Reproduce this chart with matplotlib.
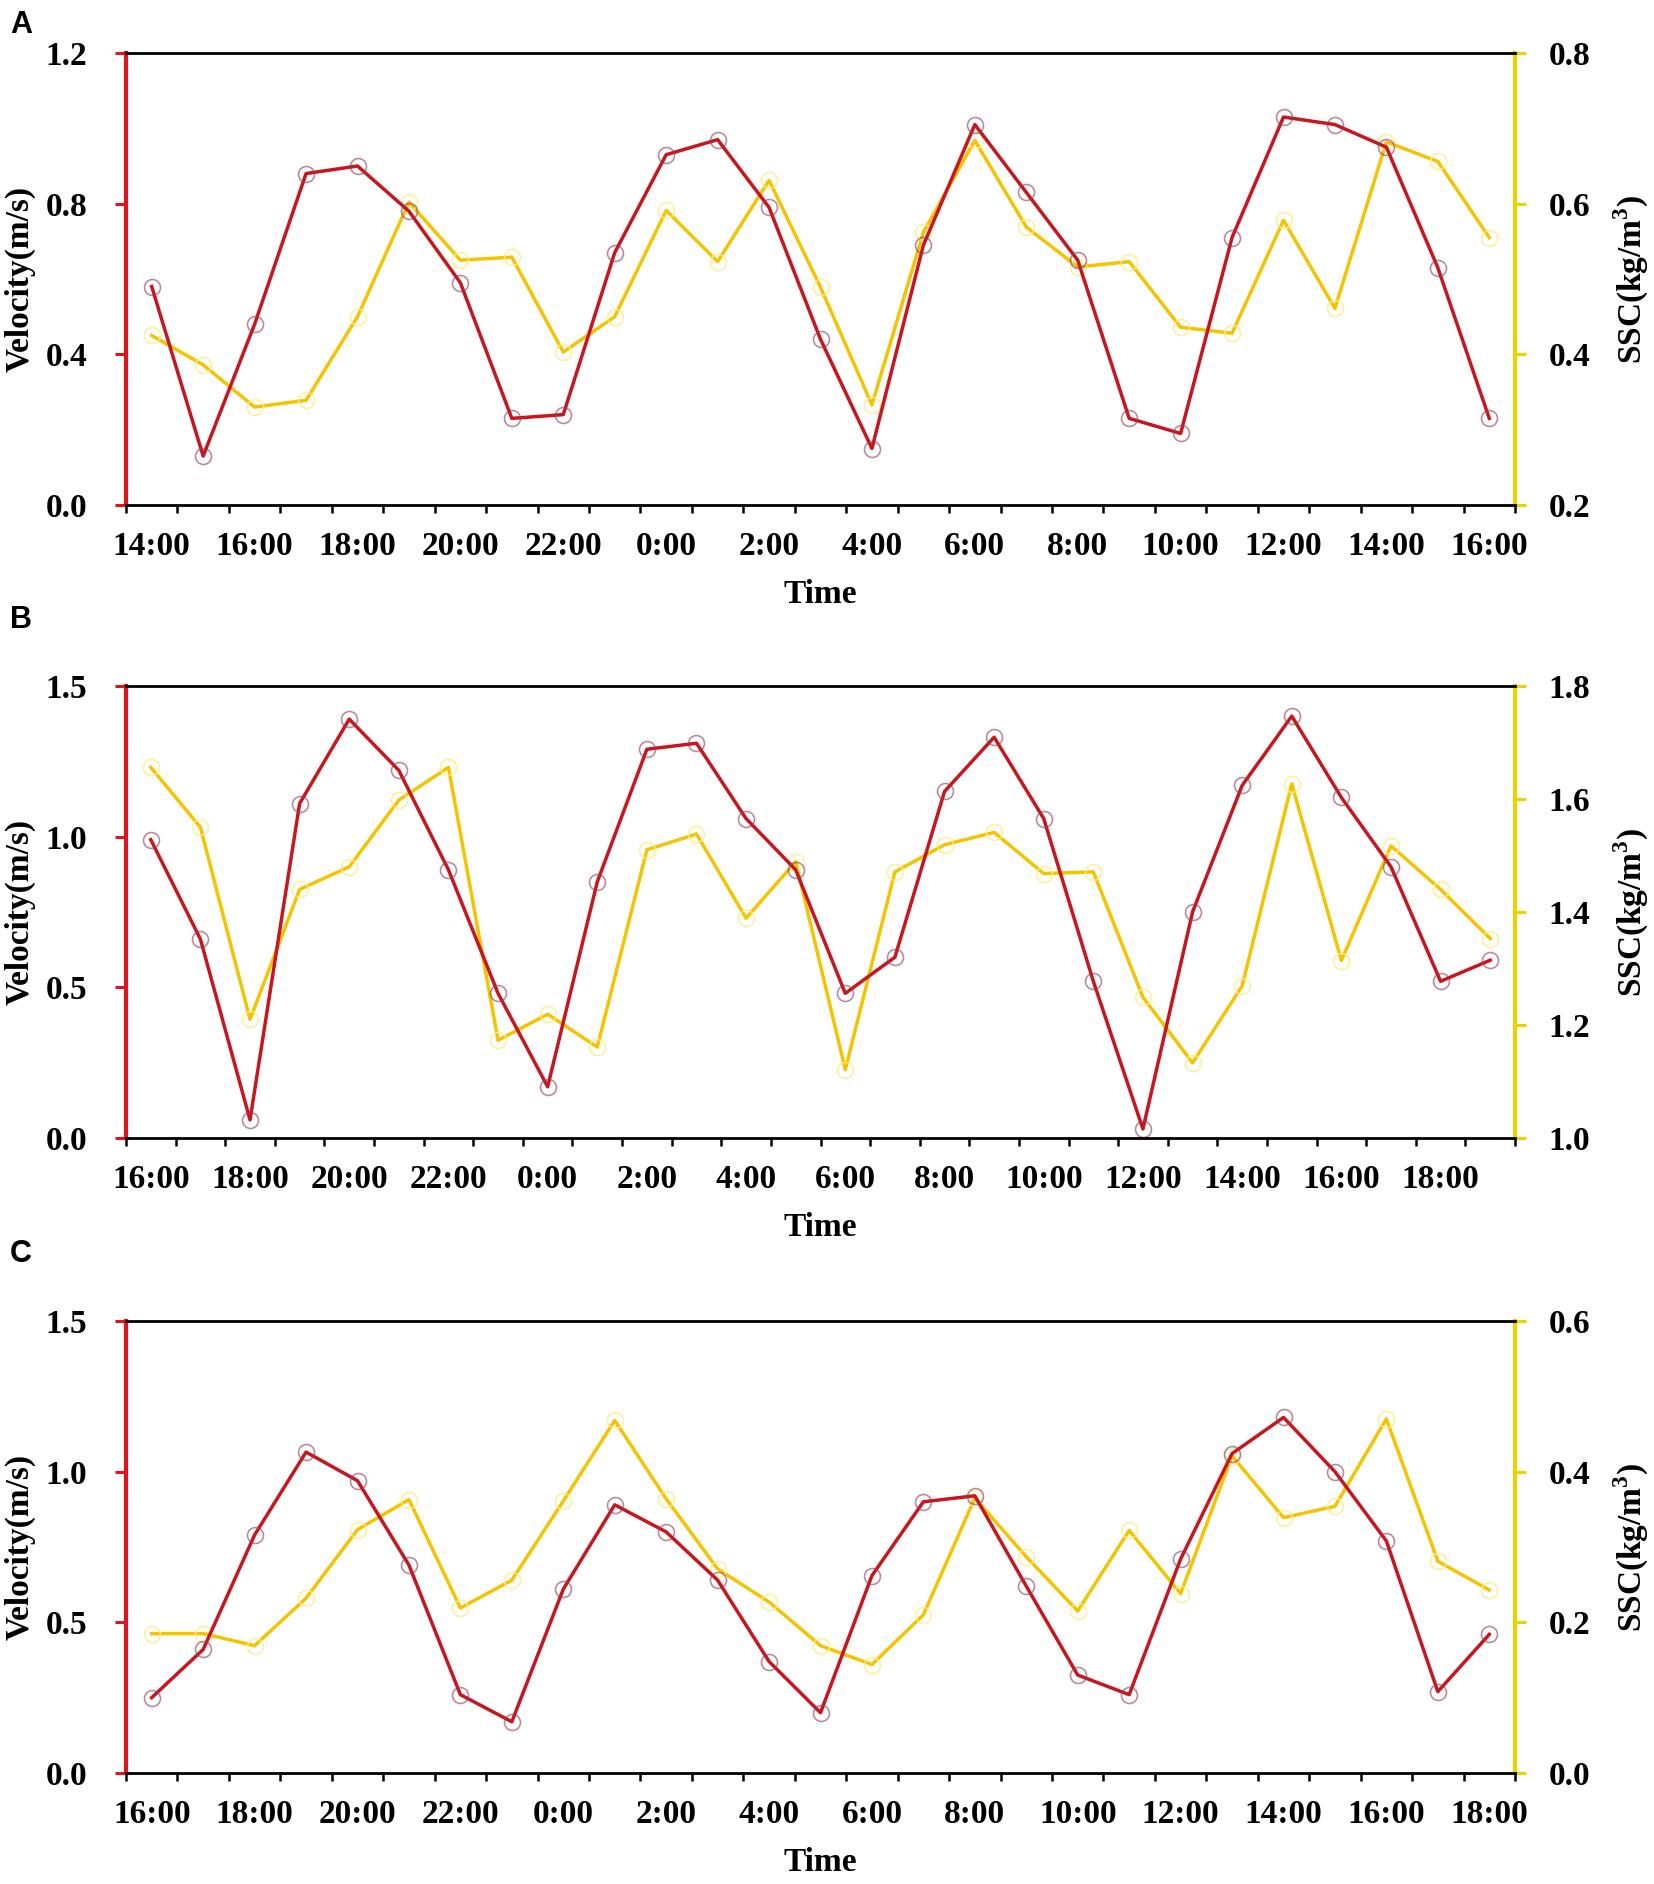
import numpy as np
import matplotlib.pyplot as plt

plt.rcParams['font.family'] = ['Liberation Serif', 'DejaVu Serif']
plt.rcParams['font.weight'] = 'bold'
plt.rcParams['mathtext.fontset'] = 'custom'
plt.rcParams['mathtext.rm'] = 'Liberation Serif:bold'

# panel A: 14:00 -> 16:00 next day, hourly
labels_a = ['14:00', '16:00', '18:00', '20:00', '22:00', '0:00', '2:00', '4:00',
            '6:00', '8:00', '10:00', '12:00', '14:00', '16:00']
vel_a = [0.58, 0.13, 0.48, 0.88, 0.90, 0.78, 0.59, 0.23, 0.24, 0.67, 0.93, 0.97, 0.79,
         0.44, 0.15, 0.69, 1.01, 0.83, 0.65, 0.23, 0.19, 0.71, 1.03, 1.01, 0.95, 0.63, 0.23]
ssc_a = [0.425, 0.386, 0.330, 0.339, 0.450, 0.602, 0.525, 0.529, 0.403, 0.450, 0.591,
         0.523, 0.631, 0.489, 0.333, 0.562, 0.684, 0.569, 0.516, 0.523, 0.436, 0.428,
         0.578, 0.461, 0.682, 0.656, 0.555]

# panel B: 16:00 -> 19:00 next day
labels_b = ['16:00', '18:00', '20:00', '22:00', '0:00', '2:00', '4:00', '6:00',
            '8:00', '10:00', '12:00', '14:00', '16:00', '18:00']
vel_b = [0.99, 0.66, 0.06, 1.11, 1.39, 1.22, 0.89, 0.48, 0.17, 0.85, 1.29, 1.31, 1.06,
         0.89, 0.48, 0.60, 1.15, 1.33, 1.06, 0.52, 0.03, 0.75, 1.17, 1.40, 1.13, 0.90,
         0.52, 0.59]
ssc_b = [1.656, 1.550, 1.210, 1.440, 1.480, 1.598, 1.656, 1.173, 1.219, 1.161, 1.510,
         1.538, 1.389, 1.489, 1.121, 1.471, 1.519, 1.541, 1.468, 1.471, 1.249, 1.133,
         1.269, 1.627, 1.314, 1.517, 1.440, 1.353]

# panel C: 16:00 -> 18:00 next day
labels_c = ['16:00', '18:00', '20:00', '22:00', '0:00', '2:00', '4:00', '6:00',
            '8:00', '10:00', '12:00', '14:00', '16:00', '18:00']
vel_c = [0.25, 0.41, 0.79, 1.065, 0.97, 0.69, 0.26, 0.17, 0.61, 0.89, 0.80, 0.64, 0.37,
         0.20, 0.655, 0.90, 0.92, 0.62, 0.325, 0.26, 0.71, 1.06, 1.18, 1.00, 0.77, 0.27,
         0.46]
ssc_c = [0.185, 0.185, 0.169, 0.232, 0.323, 0.363, 0.219, 0.256, 0.361, 0.468, 0.364,
         0.271, 0.227, 0.169, 0.144, 0.210, 0.365, 0.287, 0.215, 0.322, 0.238, 0.421,
         0.339, 0.354, 0.470, 0.281, 0.243]

RED = '#c9161e'
RED_AX = '#e0141c'
YEL = '#f5c400'
YEL_AX = '#ecd200'
FS = 24

W, H = 1654, 1884
fig = plt.figure(figsize=(W / 100, H / 100), dpi=100)


def panel(top_px, letter, letter_px, vel, ssc, labels, vlim, vticks, slim, sticks):
    n = len(vel)
    x = np.arange(n)
    rect = [126 / W, 1 - (top_px + 452) / H, 1389 / W, 452 / H]
    ax = fig.add_axes(rect)
    ax2 = ax.twinx()
    ax.set_zorder(ax2.get_zorder() + 1)
    ax.patch.set_visible(False)

    ax2.plot(x, ssc, color=YEL, lw=2.5, marker='o', ms=11.5, mfc='none',
             mec=(0.98, 0.93, 0.55, 0.8), mew=1.2)
    ax.plot(x, vel, color=RED, lw=2.5, marker='o', ms=11.5, mfc='none',
            mec=(0.55, 0.25, 0.35, 0.6), mew=1.2)

    ax.set_xlim(-0.5, n - 0.5)
    ax.set_ylim(*vlim)
    ax2.set_ylim(*slim)

    ax.set_xticks(np.arange(n + 1) - 0.5)
    ax.set_xticklabels([])
    ax.set_xticks(np.arange(0, n, 2)[:len(labels)], minor=True)
    ax.set_xticklabels(labels, minor=True, fontsize=FS, fontweight='bold')
    ax.tick_params(axis='x', which='major', direction='out', length=6, width=1.8,
                   color='black')
    ax.tick_params(axis='x', which='minor', length=0, pad=19)

    ax.set_yticks(vticks)
    ax.set_yticklabels(['%.1f' % v for v in vticks], fontsize=FS, fontweight='bold')
    ax.tick_params(axis='y', direction='out', length=8, width=2.2, color=RED_AX, pad=20)

    ax2.set_yticks(sticks)
    ax2.set_yticklabels(['%.1f' % v for v in sticks], fontsize=FS, fontweight='bold')
    ax2.tick_params(axis='y', direction='out', length=8, width=2.2, color=YEL_AX, pad=16)

    for s in ['top', 'bottom']:
        ax.spines[s].set_linewidth(2)
        ax.spines[s].set_color('black')
        ax2.spines[s].set_visible(False)
    ax.spines['left'].set_color(RED_AX)
    ax.spines['left'].set_linewidth(3)
    ax.spines['right'].set_visible(False)
    ax2.spines['left'].set_visible(False)
    ax2.spines['right'].set_color(YEL_AX)
    ax2.spines['right'].set_linewidth(3)

    ax.set_xlabel('Time', fontsize=FS, fontweight='bold', labelpad=12)
    ax.set_ylabel('Velocity(m/s)', fontsize=FS, fontweight='bold', labelpad=7)
    ax2.set_ylabel(r'SSC(kg/m$^{3}$)', fontsize=FS, fontweight='bold', labelpad=16)

    fig.text(10 / W, 1 - letter_px / H, letter, fontsize=22, fontweight='bold',
             family='Liberation Sans', va='center', ha='left')


panel(53, 'A', 25, vel_a, ssc_a, labels_a, (0, 1.2), [0.0, 0.4, 0.8, 1.2],
      (0.2, 0.8), [0.2, 0.4, 0.6, 0.8])
panel(686, 'B', 620, vel_b, ssc_b, labels_b, (0, 1.5), [0.0, 0.5, 1.0, 1.5],
      (1.0, 1.8), [1.0, 1.2, 1.4, 1.6, 1.8])
panel(1321, 'C', 1254, vel_c, ssc_c, labels_c, (0, 1.5), [0.0, 0.5, 1.0, 1.5],
      (0.0, 0.6), [0.0, 0.2, 0.4, 0.6])

fig.savefig('out.png', dpi=100)
